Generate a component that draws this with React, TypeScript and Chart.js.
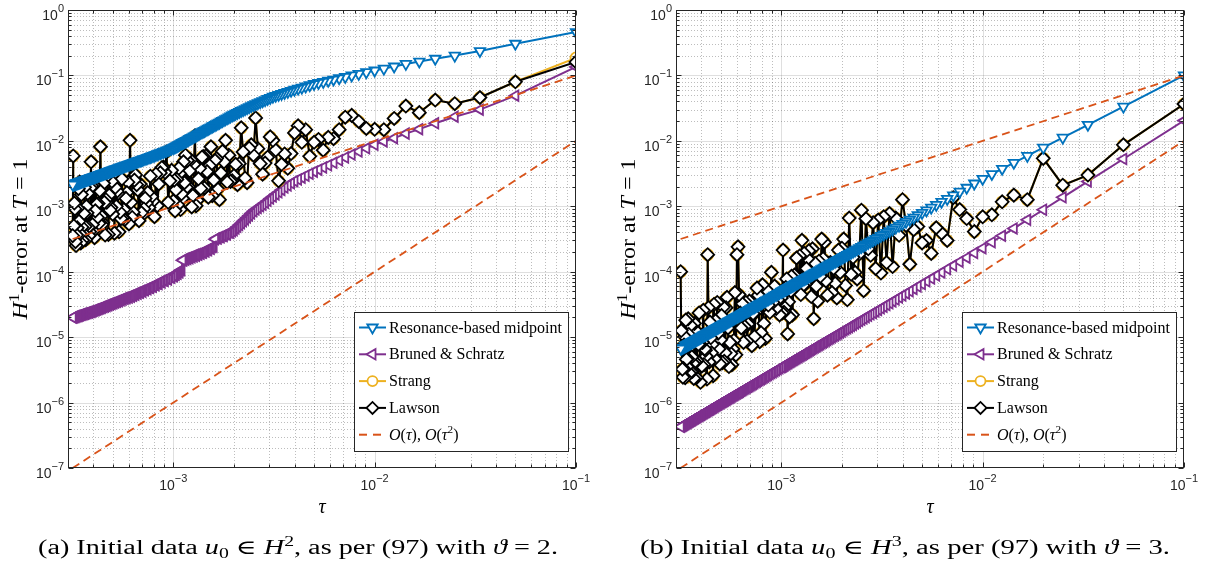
import React, { useEffect, useRef } from 'react';
import { Chart, registerables } from 'chart.js';

Chart.register(...registerables);

// ---------- data ----------
// number of time steps N (tau = 1/N)
const stepCounts = [
  10, 20, 30, 40, 50, 60, 70, 80, 90, 100,
  110, 120, 130, 140, 150, 160, 170, 180, 190, 200,
  210, 220, 230, 240, 250, 260, 270, 280, 290, 300,
  310, 320, 330, 340, 350, 360, 370, 380, 390, 400,
  410, 420, 430, 440, 450, 460, 470, 480, 490, 500,
  510, 520, 530, 540, 550, 560, 570, 580, 590, 600,
  610, 620, 630, 640, 650, 660, 670, 680, 690, 700,
  710, 720, 730, 740, 750, 760, 770, 780, 790, 800,
  810, 820, 830, 840, 850, 860, 870, 880, 890, 900,
  910, 920, 930, 940, 950, 960, 970, 980, 990, 1000,
  1020, 1040, 1060, 1080, 1100, 1120, 1140, 1160, 1180, 1200,
  1220, 1240, 1260, 1280, 1300, 1320, 1340, 1360, 1380, 1400,
  1420, 1440, 1460, 1480, 1500, 1520, 1540, 1560, 1580, 1600,
  1620, 1640, 1660, 1680, 1700, 1720, 1740, 1760, 1780, 1800,
  1820, 1840, 1860, 1880, 1900, 1920, 1940, 1960, 1980, 2000,
  2020, 2040, 2060, 2080, 2100, 2120, 2140, 2160, 2180, 2200,
  2220, 2240, 2260, 2280, 2300, 2320, 2340, 2360, 2380, 2400,
  2420, 2440, 2460, 2480, 2500, 2520, 2540, 2560, 2580, 2600,
  2620, 2640, 2660, 2680, 2700, 2720, 2740, 2760, 2780, 2800,
  2820, 2840, 2860, 2880, 2900, 2920, 2940, 2960, 2980, 3000,
  3020, 3040, 3060, 3080, 3100, 3120, 3140, 3160,
];

// ----- panel (a) -----
const resonanceA = [
  0.46, 0.305, 0.236, 0.201, 0.18, 0.163, 0.15, 0.137, 0.127, 0.119,
  0.112, 0.1055, 0.1, 0.095, 0.0905, 0.0865, 0.0829, 0.0797, 0.0767, 0.074,
  0.0708, 0.0679, 0.0652, 0.0628, 0.0605, 0.0582, 0.0561, 0.054, 0.0522, 0.0505,
  0.0488, 0.0472, 0.0453, 0.0436, 0.042, 0.0404, 0.039, 0.0377, 0.0364, 0.0352,
  0.034, 0.0327, 0.0316, 0.0305, 0.0295, 0.0286, 0.0277, 0.0268, 0.026, 0.0252,
  0.0244, 0.0236, 0.0228, 0.0221, 0.0214, 0.0208, 0.0202, 0.0196, 0.019, 0.0185,
  0.018, 0.0175, 0.017, 0.0166, 0.0161, 0.0157, 0.0153, 0.015, 0.0146, 0.0142,
  0.0139, 0.0136, 0.0133, 0.013, 0.0127, 0.0124, 0.0121, 0.0118, 0.0116, 0.0113,
  0.0111, 0.0109, 0.0107, 0.0104, 0.0102, 0.01, 0.00983, 0.00964, 0.00946, 0.00929,
  0.00911, 0.00894, 0.00878, 0.00862, 0.00847, 0.00832, 0.00817, 0.00804, 0.0079, 0.00776,
  0.00758, 0.00741, 0.00724, 0.00708, 0.00692, 0.00678, 0.00663, 0.0065, 0.00636, 0.00624,
  0.00611, 0.006, 0.00588, 0.00578, 0.00569, 0.00559, 0.0055, 0.00541, 0.00532, 0.00524,
  0.00516, 0.00508, 0.005, 0.00493, 0.00486, 0.00479, 0.00472, 0.00465, 0.00459, 0.00452,
  0.00446, 0.0044, 0.00434, 0.00429, 0.00423, 0.00418, 0.00412, 0.00407, 0.00402, 0.00397,
  0.00393, 0.00388, 0.00383, 0.00379, 0.00374, 0.0037, 0.00366, 0.00362, 0.00358, 0.00354,
  0.0035, 0.00346, 0.00343, 0.00339, 0.00335, 0.00332, 0.00329, 0.00325, 0.00322, 0.00319,
  0.00316, 0.00313, 0.00309, 0.00306, 0.00303, 0.00301, 0.00298, 0.00295, 0.00292, 0.0029,
  0.00287, 0.00284, 0.00282, 0.00279, 0.00277, 0.00275, 0.00272, 0.0027, 0.00268, 0.00265,
  0.00263, 0.00261, 0.00259, 0.00257, 0.00254, 0.00252, 0.0025, 0.00248, 0.00246, 0.00244,
  0.00243, 0.00241, 0.00239, 0.00237, 0.00235, 0.00233, 0.00232, 0.0023, 0.00228, 0.00227,
  0.00225, 0.00223, 0.00222, 0.0022, 0.00219, 0.00217, 0.00216, 0.00214,
];
const brunedA = [
  0.135, 0.049, 0.03, 0.0234, 0.0186, 0.0151, 0.0129, 0.011, 0.0098, 0.0087,
  0.00769, 0.00687, 0.00617, 0.00556, 0.00505, 0.00462, 0.00424, 0.00391, 0.00363, 0.00338,
  0.00314, 0.00293, 0.00274, 0.00257, 0.00242, 0.00224, 0.00208, 0.00193, 0.00178, 0.00164,
  0.00152, 0.00141, 0.00131, 0.00121, 0.00113, 0.00106, 0.001, 0.000943, 0.000891, 0.000839,
  0.000779, 0.000725, 0.000676, 0.00063, 0.000589, 0.000551, 0.000517, 0.000486, 0.000456, 0.00043,
  0.000415, 0.000395, 0.000398, 0.000372, 0.000375, 0.00035, 0.000355, 0.000336, 0.00034, 0.000322,
  0.000326, 0.000314, 0.00024, 0.000238, 0.000225, 0.000228, 0.000213, 0.000217, 0.000204, 0.000207,
  0.000195, 0.000198, 0.000188, 0.000192, 0.000182, 0.000186, 0.000176, 0.000181, 0.000171, 0.000175,
  0.000166, 0.00017, 0.000161, 0.000165, 0.000157, 0.000161, 0.000153, 0.000157, 0.000149, 0.00015,
  0.000106, 0.000105, 9.8e-5, 0.0001, 9.35e-5, 9.5e-5, 8.95e-5, 9.1e-5, 8.55e-5, 8.7e-5,
  8.1e-5, 8.2e-5, 7.6e-5, 7.8e-5, 7.2e-5, 7.4e-5, 6.85e-5, 7.0e-5, 6.5e-5, 6.6e-5,
  6.2e-5, 6.3e-5, 5.9e-5, 6.0e-5, 5.65e-5, 5.75e-5, 5.4e-5, 5.5e-5, 5.2e-5, 5.3e-5,
  4.95e-5, 5.1e-5, 4.75e-5, 4.9e-5, 4.6e-5, 4.75e-5, 4.45e-5, 4.55e-5, 4.3e-5, 4.4e-5,
  4.15e-5, 4.3e-5, 4.05e-5, 4.15e-5, 3.95e-5, 4.05e-5, 3.85e-5, 3.95e-5, 3.75e-5, 3.82e-5,
  3.65e-5, 3.72e-5, 3.55e-5, 3.62e-5, 3.47e-5, 3.53e-5, 3.38e-5, 3.45e-5, 3.3e-5, 3.36e-5,
  3.22e-5, 3.29e-5, 3.15e-5, 3.2e-5, 3.08e-5, 3.13e-5, 3.0e-5, 3.06e-5, 2.94e-5, 2.99e-5,
  2.88e-5, 2.93e-5, 2.82e-5, 2.86e-5, 2.76e-5, 2.8e-5, 2.71e-5, 2.75e-5, 2.65e-5, 2.69e-5,
  2.6e-5, 2.64e-5, 2.55e-5, 2.59e-5, 2.5e-5, 2.54e-5, 2.45e-5, 2.49e-5, 2.42e-5, 2.46e-5,
  2.38e-5, 2.42e-5, 2.35e-5, 2.38e-5, 2.31e-5, 2.34e-5, 2.28e-5, 2.31e-5, 2.25e-5, 2.27e-5,
  2.22e-5, 2.25e-5, 2.19e-5, 2.21e-5, 2.16e-5, 2.18e-5, 2.13e-5, 2.15e-5, 2.1e-5, 2.12e-5,
  2.07e-5, 2.1e-5, 2.04e-5, 2.06e-5, 2.02e-5, 2.04e-5, 1.99e-5, 2.0e-5,
];
const strangA = [
  0.185, 0.08, 0.046, 0.037, 0.042, 0.027, 0.034, 0.022, 0.0148, 0.015,
  0.0155, 0.0198, 0.0245, 0.023, 0.0148, 0.0108, 0.0113, 0.0072, 0.0105, 0.0095,
  0.0058, 0.0148, 0.0095, 0.017, 0.0132, 0.0064, 0.0038, 0.0063, 0.00437, 0.00245,
  0.00724, 0.0102, 0.0115, 0.00562, 0.00457, 0.00309, 0.00447, 0.00759, 0.0224, 0.00603,
  0.00871, 0.00776, 0.00229, 0.00269, 0.00676, 0.0158, 0.00447, 0.00214, 0.00437, 0.00295,
  0.00245, 0.0024, 0.00603, 0.00234, 0.0102, 0.00479, 0.00692, 0.00324, 0.00126, 0.00182,
  0.00537, 0.00501, 0.00251, 0.00145, 0.00813, 0.00417, 0.00138, 0.00339, 0.00589, 0.00191,
  0.00575, 0.00562, 0.00186, 0.0038, 0.00263, 0.00123, 0.00102, 0.012, 0.00437, 0.00145,
  0.000977, 0.00513, 0.00347, 0.002, 0.00501, 0.00195, 0.00603, 0.00229, 0.00479, 0.00132,
  0.00155, 0.000891, 0.00316, 0.0038, 0.00105, 0.00257, 0.00178, 0.000851, 0.00251, 0.0012,
  0.00355, 0.00245, 0.00115, 0.00676, 0.00331, 0.00398, 0.00389, 0.00324, 0.00219, 0.00102,
  0.00309, 0.000692, 0.0012, 0.00141, 0.00288, 0.000955, 0.00162, 0.00112, 0.00132, 0.000912,
  0.000741, 0.000794, 0.00219, 0.000603, 0.00178, 0.00214, 0.00302, 0.00251, 0.000813, 0.000676,
  0.00115, 0.0102, 0.000537, 0.00234, 0.00162, 0.00132, 0.000631, 0.000891, 0.000661, 0.00263,
  0.000646, 0.000813, 0.000407, 0.00158, 0.0017, 0.001, 0.00195, 0.000389, 0.00309, 0.000759,
  0.0024, 0.000955, 0.000871, 0.00148, 0.000372, 0.00295, 0.00115, 0.00126, 0.000363, 0.00115,
  0.00224, 0.000562, 0.000525, 0.000708, 0.00813, 0.00174, 0.00055, 0.0011, 0.000676, 0.00107,
  0.00269, 0.000851, 0.000331, 0.00209, 0.000417, 0.000525, 0.00204, 0.00479, 0.00191, 0.000407,
  0.000355, 0.000479, 0.00158, 0.000794, 0.001, 0.000309, 0.00049, 0.00195, 0.000776, 0.000389,
  0.000302, 0.000479, 0.00151, 0.000275, 0.00038, 0.00234, 0.000589, 0.00186, 0.000933, 0.000468,
  0.000363, 0.000251, 0.000288, 0.000912, 0.00112, 0.000501, 0.00589, 0.000355,
];
const lawsonA = [
  0.16, 0.08, 0.046, 0.037, 0.042, 0.027, 0.034, 0.022, 0.0148, 0.015,
  0.0155, 0.0198, 0.0245, 0.023, 0.0148, 0.0108, 0.0113, 0.0072, 0.0105, 0.0095,
  0.0058, 0.0148, 0.0095, 0.017, 0.0132, 0.0064, 0.0038, 0.0063, 0.00437, 0.00245,
  0.00724, 0.0102, 0.0115, 0.00562, 0.00457, 0.00309, 0.00447, 0.00759, 0.0224, 0.00603,
  0.00871, 0.00776, 0.00229, 0.00269, 0.00676, 0.0158, 0.00447, 0.00214, 0.00437, 0.00295,
  0.00245, 0.0024, 0.00603, 0.00234, 0.0102, 0.00479, 0.00692, 0.00324, 0.00126, 0.00182,
  0.00537, 0.00501, 0.00251, 0.00145, 0.00813, 0.00417, 0.00138, 0.00339, 0.00589, 0.00191,
  0.00575, 0.00562, 0.00186, 0.0038, 0.00263, 0.00123, 0.00102, 0.012, 0.00437, 0.00145,
  0.000977, 0.00513, 0.00347, 0.002, 0.00501, 0.00195, 0.00603, 0.00229, 0.00479, 0.00132,
  0.00155, 0.000891, 0.00316, 0.0038, 0.00105, 0.00257, 0.00178, 0.000851, 0.00251, 0.0012,
  0.00355, 0.00245, 0.00115, 0.00676, 0.00331, 0.00398, 0.00389, 0.00324, 0.00219, 0.00102,
  0.00309, 0.000692, 0.0012, 0.00141, 0.00288, 0.000955, 0.00162, 0.00112, 0.00132, 0.000912,
  0.000741, 0.000794, 0.00219, 0.000603, 0.00178, 0.00214, 0.00302, 0.00251, 0.000813, 0.000676,
  0.00115, 0.0102, 0.000537, 0.00234, 0.00162, 0.00132, 0.000631, 0.000891, 0.000661, 0.00263,
  0.000646, 0.000813, 0.000407, 0.00158, 0.0017, 0.001, 0.00195, 0.000389, 0.00309, 0.000759,
  0.0024, 0.000955, 0.000871, 0.00148, 0.000372, 0.00295, 0.00115, 0.00126, 0.000363, 0.00115,
  0.00224, 0.000562, 0.000525, 0.000708, 0.00813, 0.00174, 0.00055, 0.0011, 0.000676, 0.00107,
  0.00269, 0.000851, 0.000331, 0.00209, 0.000417, 0.000525, 0.00204, 0.00479, 0.00191, 0.000407,
  0.000355, 0.000479, 0.00158, 0.000794, 0.001, 0.000309, 0.00049, 0.00195, 0.000776, 0.000389,
  0.000302, 0.000479, 0.00151, 0.000275, 0.00038, 0.00234, 0.000589, 0.00186, 0.000933, 0.000468,
  0.000363, 0.000251, 0.000288, 0.000912, 0.00112, 0.000501, 0.00589, 0.000355,
];

// ----- panel (b) -----
const resonanceB = [
  0.1, 0.0334, 0.0176, 0.0112, 0.00787, 0.0059, 0.00462, 0.00374, 0.00311, 0.00263,
  0.00223, 0.00192, 0.00167, 0.00147, 0.0013, 0.00117, 0.00105, 0.000951, 0.000866, 0.000793,
  0.000729, 0.000672, 0.000623, 0.000579, 0.000539, 0.000504, 0.000472, 0.000443, 0.000417, 0.000393,
  0.000372, 0.000352, 0.000333, 0.000317, 0.000301, 0.000287, 0.000274, 0.000261, 0.00025, 0.000239,
  0.000229, 0.00022, 0.000211, 0.000203, 0.000195, 0.000188, 0.000181, 0.000174, 0.000168, 0.000162,
  0.000157, 0.000152, 0.000147, 0.000142, 0.000138, 0.000134, 0.00013, 0.000126, 0.000122, 0.000118,
  0.000115, 0.000112, 0.000109, 0.000106, 0.000103, 0.0001, 9.79e-5, 9.55e-5, 9.31e-5, 9.08e-5,
  8.86e-5, 8.65e-5, 8.44e-5, 8.25e-5, 8.06e-5, 7.87e-5, 7.7e-5, 7.53e-5, 7.37e-5, 7.2e-5,
  7.05e-5, 6.9e-5, 6.76e-5, 6.62e-5, 6.49e-5, 6.36e-5, 6.23e-5, 6.11e-5, 5.99e-5, 5.88e-5,
  5.77e-5, 5.66e-5, 5.55e-5, 5.45e-5, 5.35e-5, 5.25e-5, 5.16e-5, 5.07e-5, 4.99e-5, 4.9e-5,
  4.73e-5, 4.58e-5, 4.43e-5, 4.29e-5, 4.15e-5, 4.03e-5, 3.91e-5, 3.79e-5, 3.68e-5, 3.57e-5,
  3.47e-5, 3.38e-5, 3.28e-5, 3.2e-5, 3.11e-5, 3.03e-5, 2.95e-5, 2.88e-5, 2.81e-5, 2.74e-5,
  2.67e-5, 2.61e-5, 2.54e-5, 2.48e-5, 2.43e-5, 2.37e-5, 2.32e-5, 2.27e-5, 2.22e-5, 2.17e-5,
  2.13e-5, 2.08e-5, 2.04e-5, 2.0e-5, 1.96e-5, 1.92e-5, 1.88e-5, 1.84e-5, 1.81e-5, 1.77e-5,
  1.74e-5, 1.71e-5, 1.67e-5, 1.64e-5, 1.61e-5, 1.58e-5, 1.56e-5, 1.53e-5, 1.5e-5, 1.48e-5,
  1.45e-5, 1.43e-5, 1.4e-5, 1.38e-5, 1.36e-5, 1.34e-5, 1.31e-5, 1.29e-5, 1.27e-5, 1.25e-5,
  1.23e-5, 1.21e-5, 1.2e-5, 1.18e-5, 1.16e-5, 1.14e-5, 1.13e-5, 1.11e-5, 1.09e-5, 1.08e-5,
  1.06e-5, 1.05e-5, 1.03e-5, 1.02e-5, 1.0e-5, 9.9e-6, 9.76e-6, 9.63e-6, 9.5e-6, 9.38e-6,
  9.25e-6, 9.13e-6, 9.01e-6, 8.9e-6, 8.78e-6, 8.67e-6, 8.56e-6, 8.46e-6, 8.35e-6, 8.25e-6,
  8.15e-6, 8.05e-6, 7.95e-6, 7.86e-6, 7.76e-6, 7.67e-6, 7.58e-6, 7.49e-6, 7.4e-6, 7.32e-6,
  7.24e-6, 7.15e-6, 7.07e-6, 6.99e-6, 6.92e-6, 6.84e-6, 6.77e-6, 6.69e-6,
];
const brunedB = [
  0.0204, 0.00528, 0.0024, 0.00137, 0.000885, 0.000621, 0.000459, 0.000354, 0.000282, 0.000229,
  0.000193, 0.000164, 0.000142, 0.000124, 0.00011, 9.74e-5, 8.72e-5, 7.86e-5, 7.12e-5, 6.49e-5,
  5.94e-5, 5.46e-5, 5.03e-5, 4.66e-5, 4.32e-5, 4.03e-5, 3.76e-5, 3.52e-5, 3.3e-5, 3.1e-5,
  2.92e-5, 2.76e-5, 2.61e-5, 2.47e-5, 2.34e-5, 2.23e-5, 2.12e-5, 2.02e-5, 1.92e-5, 1.84e-5,
  1.76e-5, 1.68e-5, 1.61e-5, 1.54e-5, 1.48e-5, 1.42e-5, 1.37e-5, 1.32e-5, 1.27e-5, 1.22e-5,
  1.18e-5, 1.14e-5, 1.1e-5, 1.06e-5, 1.03e-5, 9.96e-6, 9.64e-6, 9.35e-6, 9.06e-6, 8.78e-6,
  8.53e-6, 8.28e-6, 8.04e-6, 7.81e-6, 7.59e-6, 7.39e-6, 7.19e-6, 7.0e-6, 6.82e-6, 6.64e-6,
  6.47e-6, 6.31e-6, 6.15e-6, 6.0e-6, 5.85e-6, 5.71e-6, 5.58e-6, 5.45e-6, 5.32e-6, 5.2e-6,
  5.09e-6, 4.98e-6, 4.87e-6, 4.76e-6, 4.66e-6, 4.56e-6, 4.47e-6, 4.38e-6, 4.29e-6, 4.2e-6,
  4.12e-6, 4.04e-6, 3.96e-6, 3.88e-6, 3.81e-6, 3.73e-6, 3.66e-6, 3.6e-6, 3.53e-6, 3.47e-6,
  3.34e-6, 3.23e-6, 3.12e-6, 3.01e-6, 2.92e-6, 2.82e-6, 2.73e-6, 2.65e-6, 2.57e-6, 2.49e-6,
  2.41e-6, 2.34e-6, 2.28e-6, 2.21e-6, 2.15e-6, 2.09e-6, 2.04e-6, 1.98e-6, 1.93e-6, 1.88e-6,
  1.83e-6, 1.78e-6, 1.74e-6, 1.7e-6, 1.66e-6, 1.62e-6, 1.58e-6, 1.54e-6, 1.51e-6, 1.47e-6,
  1.44e-6, 1.41e-6, 1.38e-6, 1.35e-6, 1.32e-6, 1.29e-6, 1.27e-6, 1.24e-6, 1.21e-6, 1.19e-6,
  1.17e-6, 1.14e-6, 1.12e-6, 1.1e-6, 1.08e-6, 1.06e-6, 1.04e-6, 1.02e-6, 1.0e-6, 9.82e-7,
  9.64e-7, 9.47e-7, 9.31e-7, 9.15e-7, 8.99e-7, 8.83e-7, 8.68e-7, 8.53e-7, 8.39e-7, 8.26e-7,
  8.12e-7, 7.99e-7, 7.86e-7, 7.74e-7, 7.61e-7, 7.5e-7, 7.38e-7, 7.27e-7, 7.16e-7, 7.05e-7,
  6.94e-7, 6.84e-7, 6.74e-7, 6.64e-7, 6.54e-7, 6.45e-7, 6.36e-7, 6.27e-7, 6.18e-7, 6.09e-7,
  6.01e-7, 5.93e-7, 5.84e-7, 5.77e-7, 5.69e-7, 5.61e-7, 5.54e-7, 5.46e-7, 5.39e-7, 5.32e-7,
  5.26e-7, 5.19e-7, 5.12e-7, 5.06e-7, 4.99e-7, 4.93e-7, 4.87e-7, 4.81e-7, 4.75e-7, 4.69e-7,
  4.64e-7, 4.58e-7, 4.53e-7, 4.47e-7, 4.42e-7, 4.37e-7, 4.32e-7, 4.27e-7,
];
const strangB = [
  0.0366, 0.0087, 0.003, 0.0021, 0.0054, 0.00126, 0.00148, 0.00117, 0.00074, 0.00069,
  0.00041, 0.00065, 0.00089, 0.00135, 0.0003, 0.00039, 0.00047, 0.00019, 0.0003, 0.000275,
  0.00049, 0.00044, 0.00013, 0.00051, 0.00126, 0.00036, 0.000661, 0.00012, 0.000776, 0.000138,
  0.000692, 9.55e-5, 0.000617, 0.000112, 0.000562, 0.000178, 0.000224, 0.000646, 5.13e-5, 0.000871,
  0.000186, 7.76e-5, 9.77e-5, 0.000166, 9.12e-5, 0.000661, 3.72e-5, 6.17e-5, 0.000316, 0.000229,
  9.77e-5, 0.000214, 3.98e-5, 6.61e-5, 0.000112, 4.79e-5, 0.000138, 0.000135, 4.37e-5, 7.24e-5,
  0.000282, 0.000158, 0.000316, 8.51e-5, 0.000145, 3.55e-5, 6.03e-5, 0.000135, 1.91e-5, 0.000224,
  4.17e-5, 9.33e-5, 0.000209, 0.000158, 0.000112, 6.46e-5, 0.000191, 6.17e-5, 0.000302, 4.47e-5,
  0.000174, 7.41e-5, 7.24e-5, 0.000162, 6.92e-5, 8.91e-5, 6.61e-5, 2.19e-5, 8.51e-5, 5.01e-5,
  2.04e-5, 3.47e-5, 1.12e-5, 7.76e-5, 5.75e-5, 2.82e-5, 2.4e-5, 0.000214, 2.34e-5, 3.98e-5,
  2.19e-5, 3.72e-5, 2.75e-5, 6.03e-5, 3.39e-5, 9.77e-5, 2.4e-5, 3.09e-5, 5.25e-5, 9.55e-6,
  1.62e-5, 6.31e-5, 1.17e-5, 8.51e-6, 4.37e-5, 5.62e-5, 2.4e-5, 1.02e-5, 2.29e-5, 7.41e-6,
  2.88e-5, 3.55e-5, 1.58e-5, 8.71e-6, 3.39e-5, 1.45e-5, 8.32e-6, 3.24e-5, 1.38e-5, 2.34e-5,
  4.47e-5, 0.00024, 0.000182, 5.37e-6, 4.79e-5, 8.91e-6, 6.61e-6, 3.8e-6, 5.62e-6, 8.32e-6,
  3.55e-6, 1.38e-5, 4.07e-5, 2.82e-5, 5.75e-6, 4.27e-6, 2.88e-5, 4.07e-6, 2.14e-5, 9.12e-6,
  3.89e-6, 6.61e-6, 1.15e-5, 3.39e-5, 1.45e-5, 1.78e-5, 4.68e-6, 3.16e-5, 2.57e-6, 7.76e-6,
  5.75e-6, 9.77e-6, 1.7e-5, 4.17e-6, 2.82e-5, 0.000182, 2.29e-6, 5.13e-6, 6.31e-6, 6.61e-6,
  3.8e-6, 2.57e-5, 8.32e-6, 3.63e-6, 1.07e-5, 2.04e-6, 7.94e-6, 2.34e-5, 7.76e-6, 1.0e-5,
  4.37e-6, 2.4e-6, 1.26e-5, 4.17e-6, 1.62e-5, 2.34e-6, 3.98e-6, 3.02e-6, 5.01e-6, 2.95e-6,
  1.51e-5, 8.71e-6, 2.82e-6, 1.1e-5, 1.91e-5, 4.68e-6, 3.55e-6, 4.57e-6, 1.82e-5, 2.4e-6,
  1.02e-5, 7.59e-6, 3.31e-6, 2.45e-6, 3.24e-6, 7.08e-6, 1.26e-5, 0.0001,
];
const lawsonB = [
  0.0366, 0.0087, 0.003, 0.0021, 0.0054, 0.00126, 0.00148, 0.00117, 0.00074, 0.00069,
  0.00041, 0.00065, 0.00089, 0.00135, 0.0003, 0.00039, 0.00047, 0.00019, 0.0003, 0.000275,
  0.00049, 0.00044, 0.00013, 0.00051, 0.00126, 0.00036, 0.000661, 0.00012, 0.000776, 0.000138,
  0.000692, 9.55e-5, 0.000617, 0.000112, 0.000562, 0.000178, 0.000224, 0.000646, 5.13e-5, 0.000871,
  0.000186, 7.76e-5, 9.77e-5, 0.000166, 9.12e-5, 0.000661, 3.72e-5, 6.17e-5, 0.000316, 0.000229,
  9.77e-5, 0.000214, 3.98e-5, 6.61e-5, 0.000112, 4.79e-5, 0.000138, 0.000135, 4.37e-5, 7.24e-5,
  0.000282, 0.000158, 0.000316, 8.51e-5, 0.000145, 3.55e-5, 6.03e-5, 0.000135, 1.91e-5, 0.000224,
  4.17e-5, 9.33e-5, 0.000209, 0.000158, 0.000112, 6.46e-5, 0.000191, 6.17e-5, 0.000302, 4.47e-5,
  0.000174, 7.41e-5, 7.24e-5, 0.000162, 6.92e-5, 8.91e-5, 6.61e-5, 2.19e-5, 8.51e-5, 5.01e-5,
  2.04e-5, 3.47e-5, 1.12e-5, 7.76e-5, 5.75e-5, 2.82e-5, 2.4e-5, 0.000214, 2.34e-5, 3.98e-5,
  2.19e-5, 3.72e-5, 2.75e-5, 6.03e-5, 3.39e-5, 9.77e-5, 2.4e-5, 3.09e-5, 5.25e-5, 9.55e-6,
  1.62e-5, 6.31e-5, 1.17e-5, 8.51e-6, 4.37e-5, 5.62e-5, 2.4e-5, 1.02e-5, 2.29e-5, 7.41e-6,
  2.88e-5, 3.55e-5, 1.58e-5, 8.71e-6, 3.39e-5, 1.45e-5, 8.32e-6, 3.24e-5, 1.38e-5, 2.34e-5,
  4.47e-5, 0.00024, 0.000182, 5.37e-6, 4.79e-5, 8.91e-6, 6.61e-6, 3.8e-6, 5.62e-6, 8.32e-6,
  3.55e-6, 1.38e-5, 4.07e-5, 2.82e-5, 5.75e-6, 4.27e-6, 2.88e-5, 4.07e-6, 2.14e-5, 9.12e-6,
  3.89e-6, 6.61e-6, 1.15e-5, 3.39e-5, 1.45e-5, 1.78e-5, 4.68e-6, 3.16e-5, 2.57e-6, 7.76e-6,
  5.75e-6, 9.77e-6, 1.7e-5, 4.17e-6, 2.82e-5, 0.000182, 2.29e-6, 5.13e-6, 6.31e-6, 6.61e-6,
  3.8e-6, 2.57e-5, 8.32e-6, 3.63e-6, 1.07e-5, 2.04e-6, 7.94e-6, 2.34e-5, 7.76e-6, 1.0e-5,
  4.37e-6, 2.4e-6, 1.26e-5, 4.17e-6, 1.62e-5, 2.34e-6, 3.98e-6, 3.02e-6, 5.01e-6, 2.95e-6,
  1.51e-5, 8.71e-6, 2.82e-6, 1.1e-5, 1.91e-5, 4.68e-6, 3.55e-6, 4.57e-6, 1.82e-5, 2.4e-6,
  1.02e-5, 7.59e-6, 3.31e-6, 2.45e-6, 3.24e-6, 7.08e-6, 1.26e-5, 0.0001,
];

// reference slopes O(tau), O(tau^2)
const refTau = [3.1623e-4, 0.1];
const refOrder1 = [3.1623e-4, 0.1];
const refOrder2 = [1e-7, 0.01];

// axes
const xLimits = [3.1623e-4, 0.1];
const yLimits = [1e-7, 1];
const xTickExponents = [-3, -2, -1];
const yTickExponents = [0, -1, -2, -3, -4, -5, -6, -7];

const seriesNames = ['Resonance-based midpoint', 'Bruned & Schratz', 'Strang', 'Lawson'];

// ---------- styling ----------
const BLUE = '#0072BD';
const PURPLE = '#7E2F8E';
const YELLOW = '#EDB120';
const ORANGE = '#D95319';
const AXIS = '#262626';
const SERIF = '"Liberation Serif", "DejaVu Serif", serif';
const SANS = '"Liberation Sans", Arial, sans-serif';

type Seg = { t: string; it?: boolean; sup?: boolean; sub?: boolean };

function richText(
  ctx: CanvasRenderingContext2D,
  segs: Seg[],
  x: number,
  y: number,
  size: number,
  align: 'left' | 'center' | 'right',
  targetW?: number,
) {
  const parts = segs.map((s) => {
    const fs = s.sup || s.sub ? size * 0.7 : size;
    const font = `${s.it ? 'italic ' : ''}${fs}px ${SERIF}`;
    ctx.font = font;
    return {
      t: s.t,
      font,
      w: ctx.measureText(s.t).width,
      dy: s.sup ? -size * 0.4 : s.sub ? size * 0.18 : 0,
    };
  });
  const natural = parts.reduce((a, p) => a + p.w, 0);
  const sx = targetW ? targetW / natural : 1;
  const total = natural * sx;
  const start = align === 'center' ? x - total / 2 : align === 'right' ? x - total : x;
  ctx.save();
  ctx.translate(start, y);
  ctx.scale(sx, 1);
  ctx.textAlign = 'left';
  ctx.textBaseline = 'alphabetic';
  let cx = 0;
  for (const p of parts) {
    ctx.font = p.font;
    ctx.fillText(p.t, cx, p.dy);
    cx += p.w;
  }
  ctx.restore();
}

function drawMarker(
  ctx: CanvasRenderingContext2D,
  kind: string,
  x: number,
  y: number,
  r: number,
  color: string,
  lw: number,
) {
  ctx.save();
  ctx.beginPath();
  if (kind === 'down') {
    ctx.moveTo(x, y + r);
    ctx.lineTo(x - 0.866 * r, y - 0.5 * r);
    ctx.lineTo(x + 0.866 * r, y - 0.5 * r);
    ctx.closePath();
  } else if (kind === 'left') {
    ctx.moveTo(x - r, y);
    ctx.lineTo(x + 0.5 * r, y - 0.866 * r);
    ctx.lineTo(x + 0.5 * r, y + 0.866 * r);
    ctx.closePath();
  } else if (kind === 'circle') {
    ctx.arc(x, y, r, 0, Math.PI * 2);
  } else if (kind === 'diamond') {
    ctx.moveTo(x - r, y);
    ctx.lineTo(x, y - r);
    ctx.lineTo(x + r, y);
    ctx.lineTo(x, y + r);
    ctx.closePath();
  }
  ctx.fillStyle = '#fff';
  ctx.fill();
  ctx.lineWidth = lw;
  ctx.strokeStyle = color;
  ctx.stroke();
  ctx.restore();
}

function hLine(ctx: CanvasRenderingContext2D, x1: number, x2: number, y: number) {
  ctx.beginPath();
  ctx.moveTo(x1, y);
  ctx.lineTo(x2, y);
  ctx.stroke();
}
function vLine(ctx: CanvasRenderingContext2D, x: number, y1: number, y2: number) {
  ctx.beginPath();
  ctx.moveTo(x, y1);
  ctx.lineTo(x, y2);
  ctx.stroke();
}

function minorValues(lo: number, hi: number) {
  const out: number[] = [];
  for (let e = -8; e <= 1; e++) {
    for (let m = 2; m <= 9; m++) {
      const v = m * Math.pow(10, e);
      if (v > lo * 1.0001 && v < hi * 0.9999) out.push(v);
    }
  }
  return out;
}

function drawGrid(chart: any) {
  const { ctx, chartArea: ca, scales } = chart;
  const xs = scales.x;
  const ys = scales.y;
  ctx.save();
  ctx.beginPath();
  ctx.rect(ca.left, ca.top, ca.right - ca.left, ca.bottom - ca.top);
  ctx.clip();
  ctx.lineWidth = 1;
  ctx.strokeStyle = 'rgba(38,38,38,0.3)';
  ctx.setLineDash([1, 2]);
  for (const v of minorValues(xLimits[0], xLimits[1])) {
    const px = Math.round(xs.getPixelForValue(v)) + 0.5;
    vLine(ctx, px, ca.top, ca.bottom);
  }
  for (const v of minorValues(yLimits[0], yLimits[1])) {
    const py = Math.round(ys.getPixelForValue(v)) + 0.5;
    hLine(ctx, ca.left, ca.right, py);
  }
  ctx.setLineDash([]);
  ctx.strokeStyle = 'rgba(38,38,38,0.15)';
  for (const e of xTickExponents) {
    const px = Math.round(xs.getPixelForValue(Math.pow(10, e))) + 0.5;
    vLine(ctx, px, ca.top, ca.bottom);
  }
  for (const e of yTickExponents) {
    const py = Math.round(ys.getPixelForValue(Math.pow(10, e))) + 0.5;
    hLine(ctx, ca.left, ca.right, py);
  }
  ctx.restore();
}

function drawAxes(chart: any) {
  const { ctx, chartArea: ca, scales } = chart;
  const xs = scales.x;
  const ys = scales.y;
  const L = Math.round(ca.left) + 0.5;
  const R = Math.round(ca.right) - 0.5;
  const T = Math.round(ca.top) + 0.5;
  const B = Math.round(ca.bottom) - 0.5;
  ctx.save();
  ctx.strokeStyle = AXIS;
  ctx.lineWidth = 1;
  ctx.setLineDash([]);
  ctx.strokeRect(L, T, R - L, B - T);
  const major = 5;
  const minor = 3;
  for (const v of minorValues(xLimits[0], xLimits[1])) {
    const px = Math.round(xs.getPixelForValue(v)) + 0.5;
    vLine(ctx, px, B, B - minor);
    vLine(ctx, px, T, T + minor);
  }
  for (const e of xTickExponents) {
    const px = Math.round(xs.getPixelForValue(Math.pow(10, e))) + 0.5;
    vLine(ctx, px, B, B - major);
    vLine(ctx, px, T, T + major);
  }
  for (const v of minorValues(yLimits[0], yLimits[1])) {
    const py = Math.round(ys.getPixelForValue(v)) + 0.5;
    hLine(ctx, L, L + minor, py);
    hLine(ctx, R, R - minor, py);
  }
  for (const e of yTickExponents) {
    const py = Math.round(ys.getPixelForValue(Math.pow(10, e))) + 0.5;
    hLine(ctx, L, L + major, py);
    hLine(ctx, R, R - major, py);
  }
  ctx.fillStyle = AXIS;
  ctx.textAlign = 'left';
  ctx.textBaseline = 'alphabetic';
  const baseFont = `14px ${SANS}`;
  const expFont = `11px ${SANS}`;
  ctx.font = baseFont;
  const bw = ctx.measureText('10').width;
  for (const e of yTickExponents) {
    const py = ys.getPixelForValue(Math.pow(10, e));
    const es = e === 0 ? '0' : '\u2212' + Math.abs(e);
    ctx.font = expFont;
    const ew = ctx.measureText(es).width;
    const xr = ca.left - 4;
    ctx.font = baseFont;
    ctx.fillText('10', xr - ew - bw, py + 10);
    ctx.font = expFont;
    ctx.fillText(es, xr - ew, py + 2);
  }
  for (const e of xTickExponents) {
    const px = xs.getPixelForValue(Math.pow(10, e));
    const es = '\u2212' + Math.abs(e);
    ctx.font = expFont;
    const ew = ctx.measureText(es).width;
    const start = px - (bw + ew) / 2;
    ctx.font = baseFont;
    ctx.fillText('10', start, ca.bottom + 22);
    ctx.font = expFont;
    ctx.fillText(es, start + bw, ca.bottom + 14);
  }
  ctx.restore();
}

type LegendEntry = { segs: Seg[]; color: string; marker?: string; r?: number; dashed?: boolean };
const legendEntries: LegendEntry[] = [
  { segs: [{ t: seriesNames[0] }], color: BLUE, marker: 'down', r: 6 },
  { segs: [{ t: seriesNames[1] }], color: PURPLE, marker: 'left', r: 6 },
  { segs: [{ t: seriesNames[2] }], color: YELLOW, marker: 'circle', r: 5 },
  { segs: [{ t: seriesNames[3] }], color: '#000', marker: 'diamond', r: 6 },
  {
    segs: [{ t: 'O', it: true }, { t: '(' }, { t: '\u03C4', it: true }, { t: '), ' }, { t: 'O', it: true }, { t: '(' }, { t: '\u03C4', it: true }, { t: '2', sup: true }, { t: ')' }],
    color: ORANGE,
    dashed: true,
  },
];

function drawLegend(chart: any) {
  const { ctx, chartArea: ca } = chart;
  const w = 214;
  const h = 139;
  const right = Math.round(ca.right) - 8;
  const bottom = Math.round(ca.bottom) - 17;
  const left = right - w;
  const top = bottom - h;
  ctx.save();
  ctx.fillStyle = '#fff';
  ctx.fillRect(left, top, w, h);
  ctx.strokeStyle = AXIS;
  ctx.lineWidth = 1;
  ctx.setLineDash([]);
  ctx.strokeRect(left + 0.5, top + 0.5, w, h);
  legendEntries.forEach((e, i) => {
    const yy = top + 15.5 + i * 26.8;
    ctx.strokeStyle = e.color;
    ctx.lineWidth = 2;
    if (e.dashed) {
      hLine(ctx, left + 5, left + 13, yy);
      hLine(ctx, left + 19, left + 27, yy);
    } else {
      hLine(ctx, left + 5, left + 32, yy);
    }
    if (e.marker) drawMarker(ctx, e.marker, left + 18.5, yy, e.r || 6, e.color, 1.8);
    ctx.fillStyle = '#000';
    richText(ctx, e.segs, left + 35, yy + 5, 16, 'left');
  });
  ctx.restore();
}

type PanelInfo = { caption: Seg[]; captionX: number; captionW: number };

function makePlugin(panel: PanelInfo) {
  return {
    id: 'matlabFrame',
    beforeDatasetsDraw(chart: any) {
      drawGrid(chart);
    },
    afterDatasetsDraw(chart: any) {
      drawLegend(chart);
      drawAxes(chart);
      const { ctx, chartArea: ca } = chart;
      ctx.save();
      ctx.fillStyle = '#000';
      ctx.translate(ca.left - 41, (ca.top + ca.bottom) / 2);
      ctx.rotate(-Math.PI / 2);
      richText(
        ctx,
        [{ t: 'H', it: true }, { t: '1', sup: true }, { t: '-error at ' }, { t: 'T', it: true }, { t: ' = 1' }],
        0,
        0,
        21,
        'center',
        161,
      );
      ctx.restore();
      ctx.save();
      ctx.fillStyle = '#000';
      richText(ctx, [{ t: '\u03C4', it: true }], (ca.left + ca.right) / 2, ca.bottom + 45, 20, 'center');
      richText(ctx, panel.caption, panel.captionX, 554, 20, 'center', panel.captionW);
      ctx.restore();
    },
  };
}

function makeConfig(
  res: number[],
  bru: number[],
  str: number[],
  law: number[],
  pad: { left: number; right: number },
  panel: PanelInfo,
): any {
  const pts = (vals: number[]) => stepCounts.map((n, i) => ({ x: 1 / n, y: vals[i] }));
  const common = {
    borderWidth: 2,
    pointBorderWidth: 1.8,
    pointBackgroundColor: '#fff',
    fill: false,
    tension: 0,
  };
  return {
    type: 'line',
    data: {
      datasets: [
        {
          ...common,
          label: seriesNames[0],
          data: pts(res),
          borderColor: BLUE,
          pointBorderColor: BLUE,
          pointStyle: 'triangle',
          pointRotation: 180,
          pointRadius: 6,
          order: 2,
        },
        {
          ...common,
          label: seriesNames[1],
          data: pts(bru),
          borderColor: PURPLE,
          pointBorderColor: PURPLE,
          pointStyle: 'triangle',
          pointRotation: 270,
          pointRadius: 6,
          order: 5,
        },
        {
          ...common,
          label: seriesNames[2],
          data: pts(str),
          borderColor: YELLOW,
          pointBorderColor: YELLOW,
          pointStyle: 'circle',
          pointRadius: 5.5,
          order: 4,
        },
        {
          ...common,
          label: seriesNames[3],
          data: pts(law),
          borderColor: '#000',
          pointBorderColor: '#000',
          pointStyle: 'rectRot',
          pointRadius: 6.5,
          order: 3,
        },
        {
          label: 'O(tau)',
          data: refTau.map((t, i) => ({ x: t, y: refOrder1[i] })),
          borderColor: ORANGE,
          borderWidth: 1.8,
          borderDash: [8, 5],
          pointRadius: 0,
          fill: false,
          order: 1,
        },
        {
          label: 'O(tau^2)',
          data: refTau.map((t, i) => ({ x: t, y: refOrder2[i] })),
          borderColor: ORANGE,
          borderWidth: 1.8,
          borderDash: [8, 5],
          pointRadius: 0,
          fill: false,
          order: 0,
        },
      ],
    },
    options: {
      responsive: false,
      maintainAspectRatio: false,
      animation: false,
      devicePixelRatio: 1,
      events: [],
      layout: { padding: { left: pad.left, right: pad.right, top: 10, bottom: 97 } },
      plugins: { legend: { display: false }, tooltip: { enabled: false } },
      scales: {
        x: { type: 'logarithmic', min: xLimits[0], max: xLimits[1], display: false },
        y: { type: 'logarithmic', min: yLimits[0], max: yLimits[1], display: false },
      },
    },
    plugins: [makePlugin(panel)],
  };
}

const captionA: Seg[] = [
  { t: '(a) Initial data ' },
  { t: 'u', it: true },
  { t: '0', sub: true },
  { t: ' \u2208 ' },
  { t: 'H', it: true },
  { t: '2', sup: true },
  { t: ', as per (97) with ' },
  { t: '\u03D1', it: true },
  { t: ' = 2.' },
];
const captionB: Seg[] = [
  { t: '(b) Initial data ' },
  { t: 'u', it: true },
  { t: '0', sub: true },
  { t: ' \u2208 ' },
  { t: 'H', it: true },
  { t: '3', sup: true },
  { t: ', as per (97) with ' },
  { t: '\u03D1', it: true },
  { t: ' = 3.' },
];

export default function App() {
  const refA = useRef<HTMLCanvasElement>(null);
  const refB = useRef<HTMLCanvasElement>(null);
  useEffect(() => {
    const a = new Chart(
      refA.current as HTMLCanvasElement,
      makeConfig(resonanceA, brunedA, strangA, lawsonA, { left: 68, right: 27 }, { caption: captionA, captionX: 298, captionW: 520 }),
    );
    const b = new Chart(
      refB.current as HTMLCanvasElement,
      makeConfig(resonanceB, brunedB, strangB, lawsonB, { left: 73, right: 23 }, { caption: captionB, captionX: 302, captionW: 530 }),
    );
    return () => {
      a.destroy();
      b.destroy();
    };
  }, []);
  return (
    <div style={{ position: 'fixed', left: 0, top: 0, width: 1207, height: 565, background: '#fff' }}>
      <canvas ref={refA} width={603} height={565} style={{ position: 'absolute', left: 0, top: 0, width: 603, height: 565 }} />
      <canvas ref={refB} width={604} height={565} style={{ position: 'absolute', left: 603, top: 0, width: 604, height: 565 }} />
    </div>
  );
}
